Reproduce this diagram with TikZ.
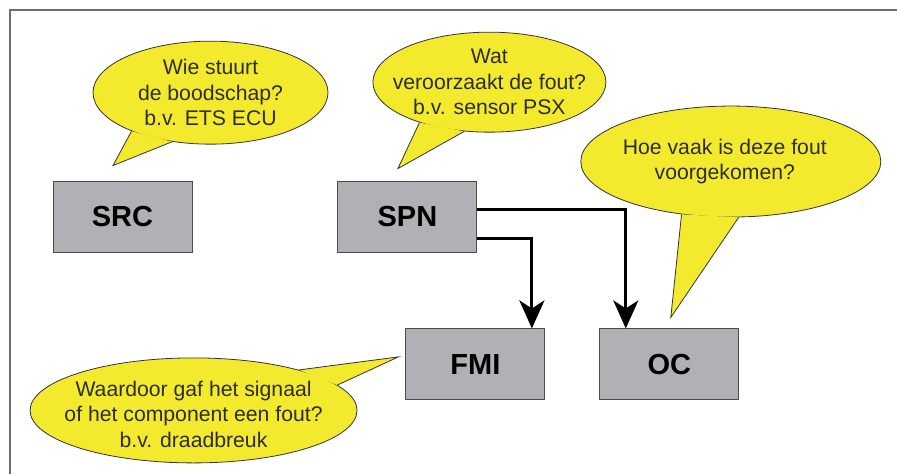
\documentclass[tikz,border=0pt]{standalone}
\usepackage{fontspec}
\setmainfont{Liberation Sans}
\usetikzlibrary{positioning,shapes.geometric,arrows.meta}

\definecolor{boxgray}{RGB}{177,176,181}
\definecolor{bubbleyellow}{RGB}{243,234,45}
\definecolor{textgray}{RGB}{45,45,45}
\definecolor{framegray}{RGB}{110,110,110}

\tikzset{
  box/.style={draw=black!70, line width=0.9pt, fill=boxgray, minimum width=139pt,
    minimum height=71pt, inner sep=0pt, font=\fontsize{29}{31}\selectfont\bfseries},
  bubble/.style={ellipse, draw=black!80, line width=0.8pt, fill=bubbleyellow, inner sep=0pt},
  bubbletext/.style={align=center, text=textgray, font=\fontsize{21.2}{25.5}\selectfont},
  tail/.style={draw=black!80, line width=0.8pt, line join=miter},
  flow/.style={line width=3pt, -{Stealth[length=28pt, width=25pt, inset=8pt]}}
}

\begin{document}
\begin{tikzpicture}[x=1pt, y=-1pt]
  \useasboundingbox (0,0) rectangle (897,474);
  \draw[framegray, line width=1.2pt] (10,474) -- (10,10) -- (897,10);

  % Define nodes
  \node[box] (src) at (122.5,216.5) {SRC};
  \node[box, right=145pt of src] (spn) {SPN};
  \node[box, below=76pt of spn, xshift=68pt] (fmi) {FMI};
  \node[box, right=54pt of fmi] (oc) {OC};

  \node[bubble, minimum width=235pt, minimum height=103pt, above=36pt of src, xshift=88pt] (qsrc) {};
  \node[bubble, minimum width=233pt, minimum height=100pt, above=48pt of spn, xshift=82pt] (qspn) {};
  \node[bubble, minimum width=300pt, minimum height=111pt, above=111pt of oc, xshift=61.5pt] (qoc) {};
  \node[bubble, minimum width=327pt, minimum height=105pt, left=48pt of fmi, yshift=-46pt] (qfmi) {};

  % Tails of the bubbles
  \coordinate (tsrc) at ([shift={(-9.5pt,15pt)}]src.north);
  \coordinate (tspn) at ([shift={(-9.5pt,12pt)}]spn.north);
  \coordinate (toc) at ([shift={(1.5pt,11pt)}]oc.north);
  \coordinate (tfmi) at ([shift={(-7pt,7.5pt)}]fmi.west);

  \fill[bubbleyellow] (qsrc.206) -- (tsrc) -- (qsrc.232) -- cycle;
  \draw[tail] (qsrc.206) -- (tsrc) -- (qsrc.232);
  \fill[bubbleyellow] (qspn.210.5) -- (tspn) -- (qspn.243) -- cycle;
  \draw[tail] (qspn.210.5) -- (tspn) -- (qspn.243);
  \fill[bubbleyellow] (qoc.227.6) -- (toc) -- (qoc.278.2) -- cycle;
  \draw[tail] (qoc.227.6) -- (toc) -- (qoc.278.2);
  \fill[bubbleyellow] (qfmi.21.75) -- (tfmi) -- (qfmi.10) -- cycle;
  \draw[tail] (qfmi.21.75) -- (tfmi) -- (qfmi.10);

  \node[bubbletext] at (qsrc) {Wie stuurt\\de boodschap?\\b.v. ETS ECU};
  \node[bubbletext] at (qspn) {Wat\\veroorzaakt de fout?\\b.v. sensor PSX};
  \node[bubbletext, xshift=-6pt] at (qoc) {Hoe vaak is deze fout\\voorgekomen?};
  \node[bubbletext, yshift=-4pt] at (qfmi) {Waardoor gaf het signaal\\of het component een fout?\\b.v. draadbreuk};

  % Connect the nodes
  \draw[flow] ([yshift=-21.5pt]spn.east) -| ([xshift=56.5pt]fmi.north);
  \draw[flow] ([yshift=7.5pt]spn.east) -| ([xshift=-43.5pt]oc.north);

\end{tikzpicture}
\end{document}
